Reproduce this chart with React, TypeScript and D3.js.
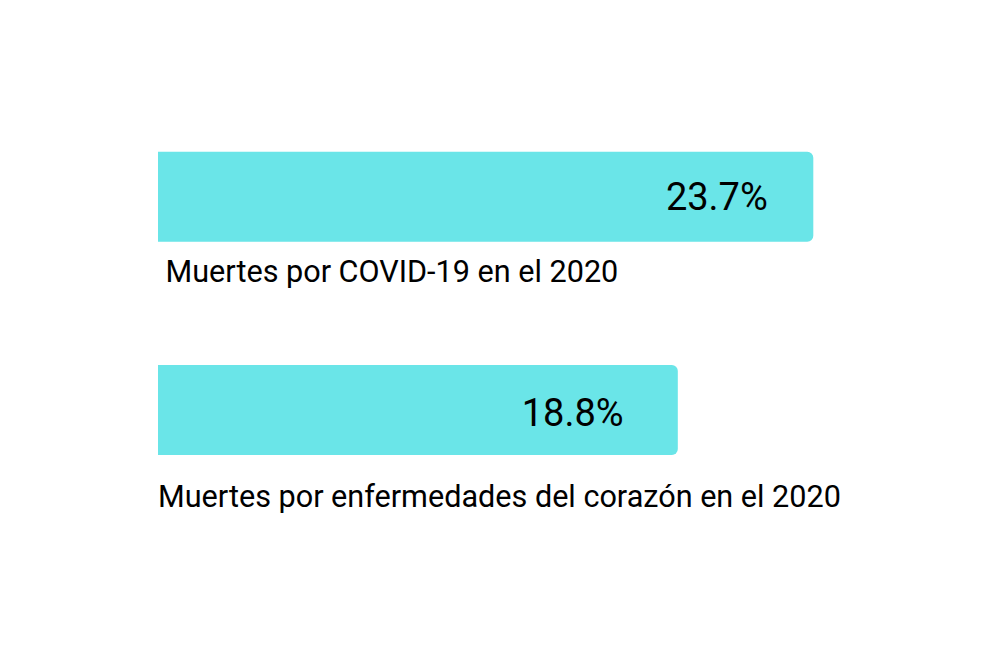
import React from "react";
import * as d3 from "d3";

const categories = ["Muertes por COVID-19 en el 2020", "Muertes por enfermedades del corazón en el 2020"];
const values = [23.7, 18.8];
const valueLabels = ["23.7%", "18.8%"];

const W = 1000;
const H = 667;
const barColor = "#6AE5E8";
// per-row layout offsets
const labelLayout = [
  { dx: 7.5, dy: 40 },
  { dx: 0, dy: 52 },
];
const valueLayout = [
  { dx: 45.5, dy: 58.5 },
  { dx: 54.2, dy: 61 },
];

function barPath(x0: number, y0: number, w: number, h: number, r: number) {
  return `M${x0},${y0}H${x0 + w - r}A${r},${r} 0 0 1 ${x0 + w},${y0 + r}V${y0 + h - r}A${r},${r} 0 0 1 ${x0 + w - r},${y0 + h}H${x0}Z`;
}

export default function App() {
  const x = d3.scaleLinear().domain([0, 23.7]).range([158, 813.3]);
  const y = d3.scaleOrdinal<number, number>().domain([0, 1]).range([151.7, 365]);
  const bh = 90;
  return (
    <svg width={W} height={H} style={{ position: "absolute", left: 0, top: 0, background: "#fff" }}
      fontFamily="Roboto, sans-serif">
      {values.map((v, i) => {
        const y0 = y(i);
        const x1 = x(v);
        return (
          <g key={i}>
            <path d={barPath(x(0), y0, x1 - x(0), bh, 6)} fill={barColor} />
            <text x={x1 - valueLayout[i].dx} y={y0 + valueLayout[i].dy} textAnchor="end" fontSize={38} fill="#000">{valueLabels[i]}</text>
            <text x={x(0) + labelLayout[i].dx} y={y0 + bh + labelLayout[i].dy} fontSize={30.6} fill="#000">{categories[i]}</text>
          </g>
        );
      })}
    </svg>
  );
}
